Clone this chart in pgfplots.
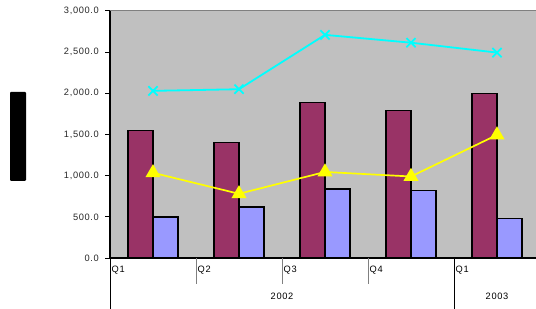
\documentclass[border=0pt]{standalone}
\usepackage{fontspec}
\setmainfont{Liberation Sans}
\usepackage{pgfplots}
\pgfplotsset{compat=1.18}
\definecolor{maroonbar}{HTML}{993366}
\definecolor{lavbar}{HTML}{9999FF}
\definecolor{plotbg}{HTML}{C0C0C0}
\definecolor{cyanline}{HTML}{00FFFF}
\definecolor{yellowline}{HTML}{FFFF00}
\definecolor{bordergray}{HTML}{808080}
\newcommand{\lbl}{\fontsize{9.3}{11}\selectfont\addfontfeature{LetterSpace=7}}
\begin{document}
\begin{tikzpicture}
\useasboundingbox (0,0) rectangle (536bp,309bp);
\clip (0,0) rectangle (536bp,309bp);
\fill[black, rounded corners=1bp] (10bp,128bp) rectangle (26bp,217bp);
\begin{axis}[
  at={(110bp,51bp)}, anchor=south west,
  scale only axis, width=430bp, height=247bp,
  xmin=-0.5, xmax=4.5, ymin=0, ymax=3000,
  axis x line=bottom, axis y line=left,
  axis line style={-, black, line width=1.2bp},
  axis background/.style={fill=plotbg, draw=bordergray, line width=1bp},
  xtick=\empty,
  ytick={0,500,1000,1500,2000,2500,3000},
  tick align=outside, major tick length=5bp,
  y tick style={black, line width=1bp},
  /pgf/number format/assume math mode=true,
  yticklabel style={/pgf/number format/fixed, /pgf/number format/precision=1, /pgf/number format/fixed zerofill, /pgf/number format/1000 sep={,}, font=\lbl, text=black!85, inner sep=0bp, xshift=-6bp},
  clip=false,
]
\addplot[ybar, bar width=25bp, bar shift=-12.5bp, fill=maroonbar, draw=black, line width=1.5bp]
  coordinates {(0,1550) (1,1400) (2,1890) (3,1790) (4,2000)};
\addplot[ybar, bar width=25bp, bar shift=12.5bp, fill=lavbar, draw=black, line width=1.5bp]
  coordinates {(0,500) (1,620) (2,840) (3,820) (4,480)};
\addplot[cyanline, line width=1.8bp, mark=x, mark size=6.5bp, mark options={line width=1.8bp}]
  coordinates {(0,2030) (1,2050) (2,2710) (3,2615) (4,2495)};
\addplot[yellowline, line width=1.7bp, mark=triangle*, mark size=7bp, mark options={fill=yellowline, draw=yellowline}]
  coordinates {(0,1035) (1,780) (2,1045) (3,990) (4,1495)};
\draw[black, line width=1bp] (axis cs:-0.5,0) -- ++(0pt,-60bp);
\draw[black, line width=1bp] (axis cs:3.5,0) -- ++(0pt,-60bp);
\draw[bordergray, line width=1bp] (axis cs:0.5,0) -- ++(0pt,-26bp);
\draw[bordergray, line width=1bp] (axis cs:1.5,0) -- ++(0pt,-26bp);
\draw[bordergray, line width=1bp] (axis cs:2.5,0) -- ++(0pt,-26bp);
\node[anchor=west, inner sep=1.5bp, font=\lbl] at ([yshift=-12.5bp]axis cs:-0.5,0) {Q1};
\node[anchor=west, inner sep=1.5bp, font=\lbl] at ([yshift=-12.5bp]axis cs:0.5,0) {Q2};
\node[anchor=west, inner sep=1.5bp, font=\lbl] at ([yshift=-12.5bp]axis cs:1.5,0) {Q3};
\node[anchor=west, inner sep=1.5bp, font=\lbl] at ([yshift=-12.5bp]axis cs:2.5,0) {Q4};
\node[anchor=west, inner sep=1.5bp, font=\lbl] at ([yshift=-12.5bp]axis cs:3.5,0) {Q1};
\node[font=\lbl] at ([yshift=-38bp]axis cs:1.5,0) {2002};
\node[font=\lbl] at ([yshift=-38bp]axis cs:4,0) {2003};
\end{axis}
\end{tikzpicture}
\end{document}
